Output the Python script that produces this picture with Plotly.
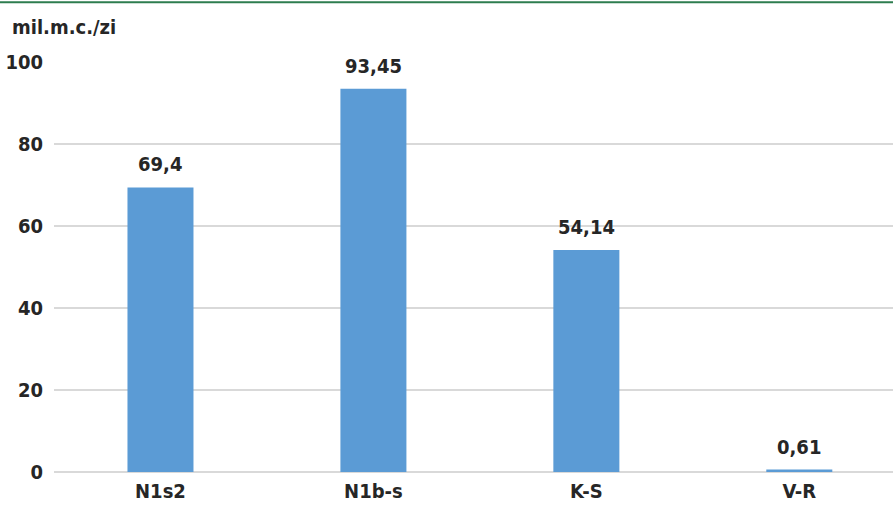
import plotly.graph_objects as go

categories = ["N1s2", "N1b-s", "K-S", "V-R"]
values = [69.4, 93.45, 54.14, 0.61]
labels = ["69,4", "93,45", "54,14", "0,61"]
y_ticks = [0, 20, 40, 60, 80, 100]

FONT = "'Liberation Sans Narrow', 'DejaVu Sans Condensed', 'Roboto Condensed', Roboto, sans-serif"
FC = "#262626"

fig = go.Figure(go.Bar(
    x=categories, y=values,
    marker=dict(color="#5B9BD5", line=dict(width=0)),
    width=0.31, cliponaxis=False,
))

ann = [dict(text="<b>%s</b>" % t, x=c, y=v, xref="x", yref="y", yanchor="bottom",
            yshift=9, showarrow=False, font=dict(family=FONT, size=20, color=FC))
       for c, v, t in zip(categories, values, labels)]
ann.append(dict(text="<b>mil.m.c./zi</b>", xref="paper", yref="paper", x=-0.053, y=1.085,
                xanchor="left", yanchor="middle", showarrow=False,
                font=dict(family=FONT, size=20, color=FC)))

fig.update_layout(
    width=893, height=510,
    margin=dict(l=54, r=0, t=62, b=38),
    paper_bgcolor="white", plot_bgcolor="white",
    showlegend=False,
    font=dict(family=FONT, size=20, color=FC),
    xaxis=dict(range=[-0.5, 3.44], showgrid=False, showline=False, ticks="",
               tickvals=categories, ticktext=["<b>%s</b>" % c for c in categories],
               ticklabelstandoff=5,
               tickfont=dict(family=FONT, size=20, color=FC)),
    yaxis=dict(range=[0, 100], tickvals=y_ticks, ticktext=["<b>%d</b>" % v for v in y_ticks],
               showgrid=True, gridcolor="#d9d9d9",
               gridwidth=1.5, zeroline=True, zerolinecolor="#d9d9d9", zerolinewidth=1.5,
               showline=False, ticks="", ticklabelstandoff=10,
               tickfont=dict(family=FONT, size=20, color=FC)),
    shapes=[dict(type="line", xref="paper", yref="paper", x0=-0.1, x1=1.0, y0=1.146, y1=1.146,
                 line=dict(color="#2E7D4F", width=2))],
    annotations=ann,
)

fig.write_html("out.html")
